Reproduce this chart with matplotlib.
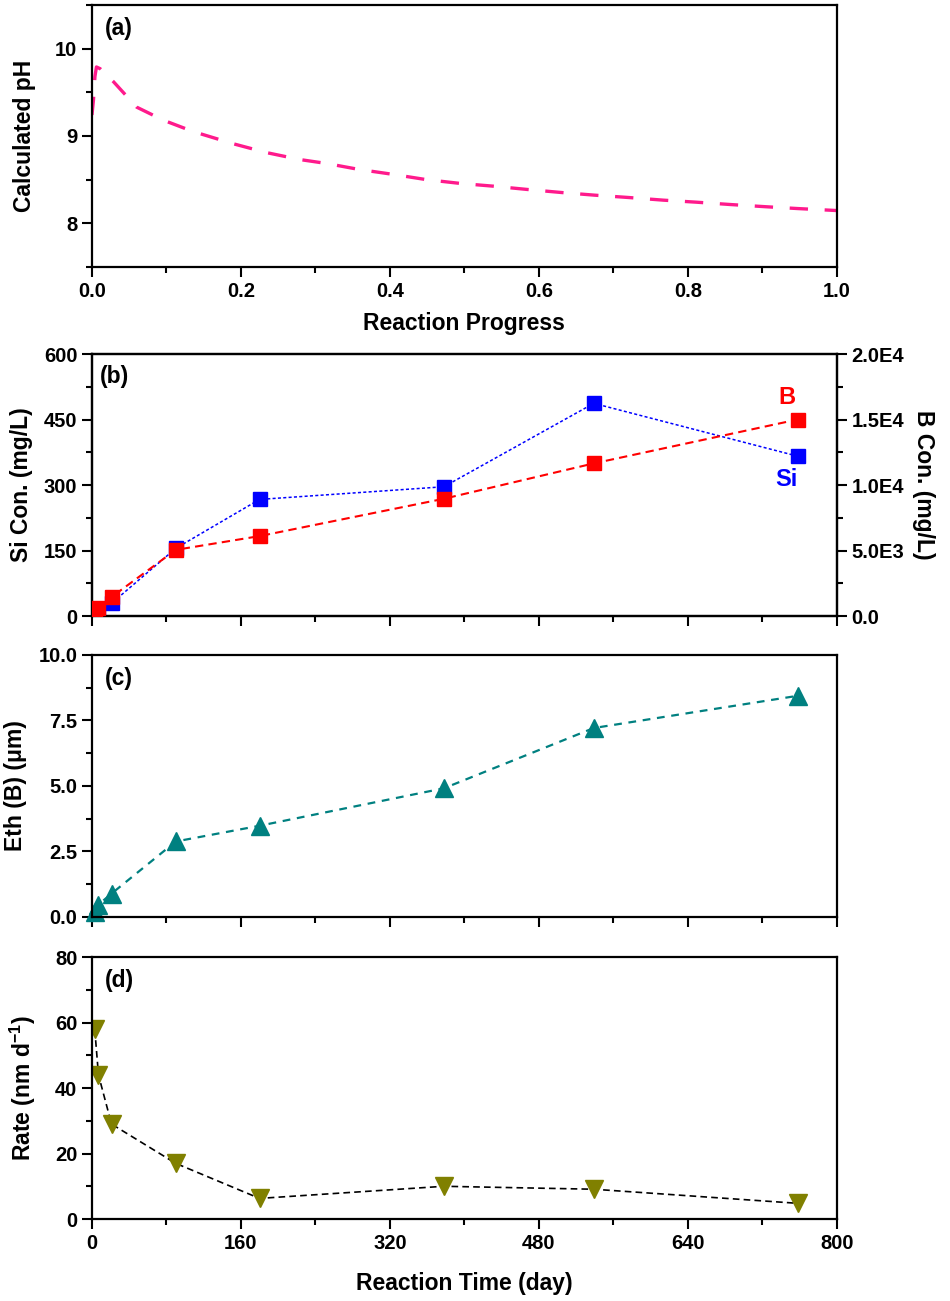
import numpy as np
import matplotlib
matplotlib.use('Agg')
import matplotlib.pyplot as plt
from matplotlib.ticker import MultipleLocator, FuncFormatter

plt.rcParams['font.family'] = ['Liberation Sans', 'DejaVu Sans']
plt.rcParams['font.weight'] = 'bold'
plt.rcParams['axes.labelweight'] = 'bold'
plt.rcParams['axes.unicode_minus'] = False
plt.rcParams['mathtext.fontset'] = 'custom'
plt.rcParams['mathtext.rm'] = 'Liberation Sans:bold'
plt.rcParams['mathtext.bf'] = 'Liberation Sans:bold'
plt.rcParams['mathtext.default'] = 'rm'

# (a) calculated pH along the reaction progress
progress = [0, 0.002, 0.004, 0.006, 0.011, 0.029, 0.06, 0.096, 0.136, 0.19, 0.234,
            0.279, 0.315, 0.359, 0.402, 0.449, 0.495, 0.539, 0.585, 0.631, 0.675,
            0.721, 0.767, 0.811, 0.857, 0.904, 0.947, 1.0]
ph = [9.24, 9.41, 9.68, 9.79, 9.77, 9.62, 9.33, 9.18, 9.05, 8.91, 8.81,
      8.73, 8.685, 8.616, 8.563, 8.50, 8.456, 8.425, 8.387, 8.352, 8.322,
      8.295, 8.265, 8.242, 8.215, 8.19, 8.169, 8.146]

# (b)-(d) reaction time in days
days = [3, 7, 21, 90, 180, 378, 539, 758]
si_con = [8, 15, 29, 155, 267, 296, 487, 366]          # mg/L
b_con = [300, 650, 1450, 5050, 6100, 8950, 11650, 15000]  # mg/L
eth_b = [0.2, 0.47, 0.89, 2.88, 3.48, 4.91, 7.21, 8.44]  # um
rate = [57.9, 44.0, 29.0, 17.0, 6.3, 10.0, 9.1, 4.8]     # nm/d

LS = 14.5   # tick label size
AL = 16.5   # axis label size
PL = 16.5   # panel letter size


def sci_label(v, p):
	if v <= 0:
		return '0.0'
	e = int(np.floor(np.log10(v) + 1e-9))
	return '%.1fE%d' % (v / 10 ** e, e)


def style_axes(ax, right=False):
	for s in ax.spines.values():
		s.set_linewidth(1.6)
	ax.tick_params(which='major', direction='out', length=7, width=1.5, labelsize=LS)
	ax.tick_params(which='minor', direction='out', length=4, width=1.5)
	if not right:
		ax.tick_params(which='both', top=False, right=False)


fig = plt.figure(figsize=(9.5, 13.01), dpi=100)
L, W, H = 0.0968, 0.784, 0.2014

# ---- (a)
ax1 = fig.add_axes([L, 0.7948, W, H])
ax1.plot(progress, ph, color='#ff1a8c', lw=2.4, dashes=(5.5, 5))
ax1.set_xlim(0, 1)
ax1.set_ylim(7.5, 10.5)
ax1.xaxis.set_major_locator(MultipleLocator(0.2))
ax1.xaxis.set_minor_locator(MultipleLocator(0.1))
ax1.yaxis.set_major_locator(MultipleLocator(1))
ax1.yaxis.set_minor_locator(MultipleLocator(0.5))
ax1.xaxis.set_major_formatter(FuncFormatter(lambda v, p: '%.1f' % v))
style_axes(ax1)
ax1.set_xlabel('Reaction Progress', fontsize=AL, labelpad=8)
ax1.set_ylabel('Calculated pH', fontsize=AL, labelpad=14)
ax1.text(0.018, 0.91, '(a)', transform=ax1.transAxes, fontsize=PL, va='center')

# ---- (b)
ax2 = fig.add_axes([L, 0.5265, W, H])
ax2b = ax2.twinx()
ax2.plot(days, si_con, color='#0000ff', lw=1.1, dashes=(2, 1.5), marker='s',
         ms=10.5, mec='#0000ff', zorder=2)
ax2b.plot(days, b_con, color='#ff0000', lw=1.5, dashes=(4, 2.5), marker='s',
          ms=10.5, mec='#ff0000', zorder=3)
ax2.set_xlim(0, 800)
ax2.set_ylim(0, 600)
ax2b.set_ylim(0, 20000)
ax2.xaxis.set_major_locator(MultipleLocator(160))
ax2.xaxis.set_minor_locator(MultipleLocator(80))
ax2.yaxis.set_major_locator(MultipleLocator(150))
ax2.yaxis.set_minor_locator(MultipleLocator(75))
ax2b.yaxis.set_major_locator(MultipleLocator(5000))
ax2b.yaxis.set_minor_locator(MultipleLocator(2500))
ax2b.yaxis.set_major_formatter(FuncFormatter(sci_label))
style_axes(ax2)
ax2.tick_params(axis='x', labelbottom=False)
for s in ax2b.spines.values():
	s.set_linewidth(1.6)
ax2b.tick_params(which='major', direction='out', length=7, width=1.5, labelsize=LS)
ax2b.tick_params(which='minor', direction='out', length=4, width=1.5)
ax2.set_ylabel('Si Con. (mg/L)', fontsize=AL, labelpad=8)
ax2b.set_ylabel('B Con. (mg/L)', fontsize=AL, rotation=270, labelpad=22)
ax2.text(0.01, 0.915, '(b)', transform=ax2.transAxes, fontsize=PL, va='center')
ax2.text(746, 500, 'B', color='#ff0000', fontsize=17, ha='center', va='center')
ax2.text(746, 312, 'Si', color='#0000ff', fontsize=17, ha='center', va='center')

# ---- (c)
ax3 = fig.add_axes([L, 0.2952, W, H])
ax3.plot(days, eth_b, color='#008080', lw=1.6, dashes=(3.5, 3), marker='^',
         ms=13, mec='#008080', clip_on=False)
ax3.set_xlim(0, 800)
ax3.set_ylim(0, 10)
ax3.xaxis.set_major_locator(MultipleLocator(160))
ax3.xaxis.set_minor_locator(MultipleLocator(80))
ax3.yaxis.set_major_locator(MultipleLocator(2.5))
ax3.yaxis.set_minor_locator(MultipleLocator(1.25))
ax3.yaxis.set_major_formatter(FuncFormatter(lambda v, p: '%.1f' % v))
style_axes(ax3)
ax3.tick_params(axis='x', labelbottom=False)
ax3.set_ylabel('Eth (B) (μm)', fontsize=AL, labelpad=8)
ax3.text(0.018, 0.91, '(c)', transform=ax3.transAxes, fontsize=PL, va='center')

# ---- (d)
ax4 = fig.add_axes([L, 0.0630, W, H])
ax4.plot(days, rate, color='black', lw=1.2, dashes=(4, 2.5), marker='v',
         ms=13, mfc='#808000', mec='#808000')
ax4.set_xlim(0, 800)
ax4.set_ylim(0, 80)
ax4.xaxis.set_major_locator(MultipleLocator(160))
ax4.xaxis.set_minor_locator(MultipleLocator(80))
ax4.yaxis.set_major_locator(MultipleLocator(20))
ax4.yaxis.set_minor_locator(MultipleLocator(10))
style_axes(ax4)
ax4.set_xlabel('Reaction Time (day)', fontsize=AL, labelpad=14)
ax4.set_ylabel(r'Rate (nm d$^{-1}$)', fontsize=AL, labelpad=12)
ax4.text(0.018, 0.91, '(d)', transform=ax4.transAxes, fontsize=PL, va='center')

fig.savefig('out.png', dpi=100)
